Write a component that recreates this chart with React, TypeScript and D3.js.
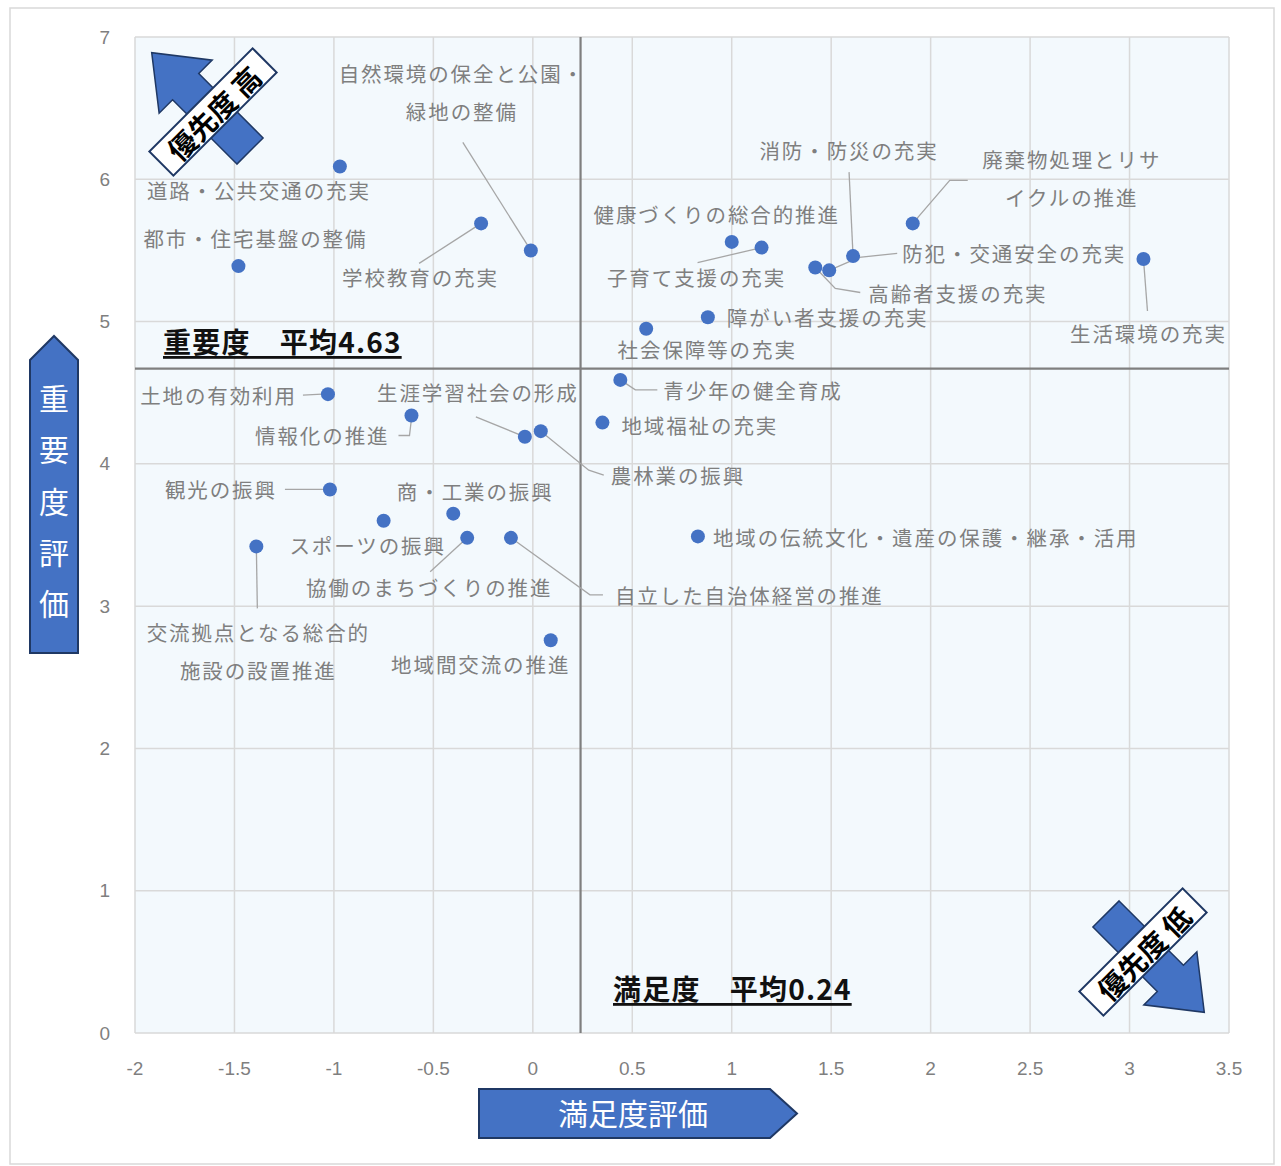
import React from "react";
import * as d3 from "d3";

// ---- data ----
const items: string[] = [
  "道路・公共交通の充実",
  "都市・住宅基盤の整備",
  "学校教育の充実",
  "自然環境の保全と公園・|緑地の整備",
  "健康づくりの総合的推進",
  "子育て支援の充実",
  "消防・防災の充実",
  "廃棄物処理とリサ|イクルの推進",
  "高齢者支援の充実",
  "防犯・交通安全の充実",
  "生活環境の充実",
  "障がい者支援の充実",
  "社会保障等の充実",
  "青少年の健全育成",
  "地域福祉の充実",
  "土地の有効利用",
  "生涯学習社会の形成",
  "農林業の振興",
  "情報化の推進",
  "観光の振興",
  "商・工業の振興",
  "スポーツの振興",
  "協働のまちづくりの推進",
  "自立した自治体経営の推進",
  "交流拠点となる総合的|施設の設置推進",
  "地域間交流の推進",
  "地域の伝統文化・遺産の保護・継承・活用",
];
const satisfaction: number[] = [
  -0.97, -1.48, -0.26, -0.01, 1.0, 1.15, 1.61, 1.91, 1.42, 1.49, 3.07, 0.88, 0.57,
  0.44, 0.35, -1.03, -0.04, 0.04, -0.61, -1.02, -0.4, -0.75, -0.33, -0.11, -1.39,
  0.09, 0.83,
];
const importance: number[] = [
  6.09, 5.39, 5.69, 5.5, 5.56, 5.52, 5.46, 5.69, 5.38, 5.36, 5.44, 5.03, 4.95,
  4.59, 4.29, 4.49, 4.19, 4.23, 4.34, 3.82, 3.65, 3.6, 3.48, 3.48, 3.42, 2.76,
  3.49,
];
const xTicks: number[] = [-2, -1.5, -1, -0.5, 0, 0.5, 1, 1.5, 2, 2.5, 3, 3.5];
const yTicks: number[] = [0, 1, 2, 3, 4, 5, 6, 7];
const meanSatisfaction = 0.24;
const meanImportance = 4.63;
const meanImportanceLine = 4.67;
const xTitle = "満足度評価";
const yTitle = "重要度評価";
const highLabel = "優先度 高";
const lowLabel = "優先度 低";

// ---- label layout (pixel offsets from each dot) ----
type Lay = { dx: number; dy: number; anchor: string; lead?: number[][] };
const layout: Lay[] = [
  { dx: -193, dy: 24, anchor: "start" },
  { dx: -95, dy: -28, anchor: "start" },
  { dx: -139, dy: 54, anchor: "start", lead: [[0, 0], [-62, 40]] },
  { dx: -69, dy: -177, anchor: "middle", lead: [[0, 0], [-68, -108]] },
  { dx: -15, dy: -28, anchor: "middle" },
  { dx: -65, dy: 29, anchor: "middle", lead: [[0, 0], [-64, 15]] },
  { dx: -4, dy: -106, anchor: "middle", lead: [[0, 0], [-4, -84]] },
  { dx: 159, dy: -64, anchor: "middle", lead: [[0, 0], [37, -43], [55, -43]] },
  { dx: 53, dy: 25, anchor: "start", lead: [[0, 0], [20, 21], [45, 25]] },
  { dx: 73, dy: -17, anchor: "start", lead: [[0, 0], [30, -13], [68, -17]] },
  { dx: 5, dy: 74, anchor: "middle", lead: [[0, 0], [4, 52]] },
  { dx: 19, dy: 0, anchor: "start" },
  { dx: 61, dy: 20, anchor: "middle" },
  { dx: 43, dy: 10, anchor: "start", lead: [[0, 0], [15, 10], [37, 10]] },
  { dx: 19, dy: 2, anchor: "start" },
  { dx: -31, dy: 1, anchor: "end", lead: [[-6, 0], [-25, 1]] },
  { dx: -47, dy: -45, anchor: "middle", lead: [[0, 0], [-49, -20]] },
  { dx: 70, dy: 44, anchor: "start", lead: [[0, 0], [48, 39], [63, 44]] },
  { dx: -22, dy: 20, anchor: "end", lead: [[0, 3], [-2, 20], [-13, 20]] },
  { dx: -53, dy: 0, anchor: "end", lead: [[-7, 0], [-45, 0]] },
  { dx: 22, dy: -23, anchor: "middle" },
  { dx: -16, dy: 24, anchor: "middle" },
  { dx: -38, dy: 49, anchor: "middle", lead: [[0, 0], [-37, 34]] },
  { dx: 104, dy: 57, anchor: "start", lead: [[0, 0], [79, 57], [92, 57]] },
  { dx: 2, dy: 86, anchor: "middle", lead: [[0, 0], [1, 62]] },
  { dx: -70, dy: 24, anchor: "middle" },
  { dx: 15, dy: 1, anchor: "start" },
];

const W = 1281;
const H = 1166;
const BLUE = "#4472c4";
const NAVY = "#1f3864";
const JP = "'Noto Sans CJK JP', 'Noto Sans', sans-serif";

function PriorityArrow({ tail, angle, boxCenter, label }: { tail: number[]; angle: number; boxCenter: number[]; label: string }) {
  const L = 139, sw = 18.5, hw = 37.5, hl = 48;
  const pts = [
    [0, -sw], [L - hl, -sw], [L - hl, -hw], [L, 0], [L - hl, hw], [L - hl, sw], [0, sw],
  ];
  const line = d3.line();
  return (
    <g>
      <path
        d={line(pts as [number, number][]) + "Z"}
        transform={`translate(${tail[0]},${tail[1]}) rotate(${angle})`}
        fill={BLUE}
        stroke={NAVY}
        strokeWidth={1.5}
      />
      <g transform={`translate(${boxCenter[0]},${boxCenter[1]}) rotate(-45)`}>
        <rect x={-73} y={-17} width={146} height={34} fill="#fff" stroke={NAVY} strokeWidth={2} />
        <text x={0} y={1} textAnchor="middle" dominantBaseline="central" fontSize={28} fontWeight={700} fontFamily={JP} fill="#000">
          {label}
        </text>
      </g>
    </g>
  );
}

export default function App() {
  const x = d3.scaleLinear().domain([-2, 3.5]).range([135, 1229]);
  const y = d3.scaleLinear().domain([0, 7]).range([1033, 37]);
  const lineGen = d3.line();

  const pts = items.map((name, i) => ({
    name,
    px: x(satisfaction[i]),
    py: y(importance[i]),
    lay: layout[i],
  }));

  const yArrow = [[30, 360], [54, 336], [78, 360], [78, 653], [30, 653]] as [number, number][];
  const xArrow = [[479, 1089], [770, 1089], [797, 1113.5], [770, 1138], [479, 1138]] as [number, number][];

  return (
    <svg width={W} height={H} style={{ position: "absolute", left: 0, top: 0, background: "#fff" }}>
      <rect x={10} y={8} width={1264} height={1156} fill="#fff" stroke="#d9d9d9" strokeWidth={1.5} />
      {/* plot area */}
      <rect x={x(-2)} y={y(7)} width={x(3.5) - x(-2)} height={y(0) - y(7)} fill="#f3f9fd" />
      {xTicks.map((t) => (
        <line key={"gx" + t} x1={x(t)} x2={x(t)} y1={y(0)} y2={y(7)} stroke="#d9d9d9" strokeWidth={1.5} />
      ))}
      {yTicks.map((t) => (
        <line key={"gy" + t} x1={x(-2)} x2={x(3.5)} y1={y(t)} y2={y(t)} stroke="#d9d9d9" strokeWidth={1.5} />
      ))}
      {/* mean lines */}
      <line x1={x(meanSatisfaction)} x2={x(meanSatisfaction)} y1={y(0)} y2={y(7)} stroke="#7f7f7f" strokeWidth={2.2} />
      <line x1={x(-2)} x2={x(3.5)} y1={y(meanImportanceLine)} y2={y(meanImportanceLine)} stroke="#7f7f7f" strokeWidth={2.2} />
      {/* ticks */}
      {xTicks.map((t) => (
        <text key={"tx" + t} x={x(t)} y={1068} textAnchor="middle" dominantBaseline="central" fontSize={19} fill="#7f7f7f" fontFamily="'Liberation Sans', sans-serif">
          {t}
        </text>
      ))}
      {yTicks.map((t) => (
        <text key={"ty" + t} x={110} y={y(t)} textAnchor="end" dominantBaseline="central" fontSize={19} fill="#7f7f7f" fontFamily="'Liberation Sans', sans-serif">
          {t}
        </text>
      ))}
      {/* leader lines */}
      {pts.map((p, i) =>
        p.lay.lead ? (
          <path
            key={"ld" + i}
            d={lineGen(p.lay.lead.map((q) => [p.px + q[0], p.py + q[1]]) as [number, number][]) || ""}
            fill="none"
            stroke="#a6a6a6"
            strokeWidth={1.3}
          />
        ) : null
      )}
      {/* dots */}
      {pts.map((p, i) => (
        <circle key={"c" + i} cx={p.px} cy={p.py} r={7} fill={BLUE} />
      ))}
      {/* labels */}
      {pts.map((p, i) => {
        const lines = p.name.split("|");
        return (
          <text key={"lb" + i} textAnchor={p.lay.anchor} fontSize={20.5} fill="#7f7f7f" fontFamily={JP} letterSpacing={1.9}>
            {lines.map((ln, j) => (
              <tspan key={j} x={p.px + p.lay.dx} y={p.py + p.lay.dy + j * 38} dominantBaseline="central">
                {ln}
              </tspan>
            ))}
          </text>
        );
      })}
      {/* averages */}
      <text x={163} y={341} dominantBaseline="central" fontSize={28} fontWeight={700} fontFamily={JP} fill="#111" textDecoration="underline" letterSpacing={1.2}>
        {"重要度　平均" + meanImportance.toFixed(2)}
      </text>
      <text x={613} y={988} dominantBaseline="central" fontSize={28} fontWeight={700} fontFamily={JP} fill="#111" textDecoration="underline" letterSpacing={1.2}>
        {"満足度　平均" + meanSatisfaction.toFixed(2)}
      </text>
      {/* priority arrows */}
      <PriorityArrow tail={[250, 151]} angle={-135} boxCenter={[213, 112]} label={highLabel} />
      <PriorityArrow tail={[1106, 914]} angle={45} boxCenter={[1143, 952]} label={lowLabel} />
      {/* axis title arrows */}
      <path d={lineGen(yArrow) + "Z"} fill={BLUE} stroke={NAVY} strokeWidth={2} />
      {yTitle.split("").map((ch, i) => (
        <text key={"yt" + i} x={54} y={397 + i * 51.3} textAnchor="middle" dominantBaseline="central" fontSize={30} fill="#fff" fontFamily={JP}>
          {ch}
        </text>
      ))}
      <path d={lineGen(xArrow) + "Z"} fill={BLUE} stroke={NAVY} strokeWidth={2} />
      <text x={633} y={1112} textAnchor="middle" dominantBaseline="central" fontSize={30} fill="#fff" fontFamily={JP}>
        {xTitle}
      </text>
    </svg>
  );
}
